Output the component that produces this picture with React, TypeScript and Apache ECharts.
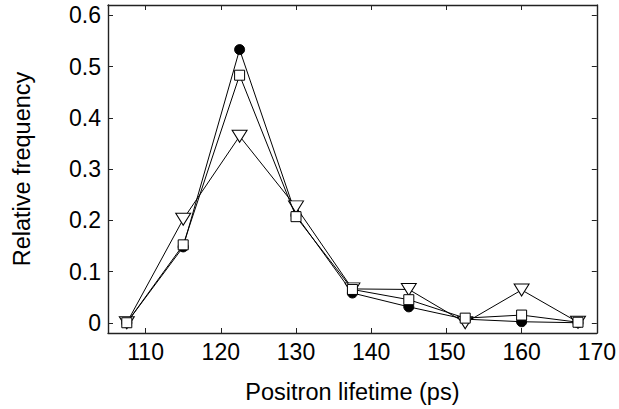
import React, { useEffect, useRef } from "react";
import * as echarts from "echarts";

const lifetimes = [107.5, 115, 122.5, 130, 137.5, 145, 152.5, 160, 167.5];
const circleSeries = [0, 0.148, 0.533, 0.21, 0.058, 0.031, 0.007, 0.002, 0];
const squareSeries = [0, 0.152, 0.483, 0.207, 0.065, 0.045, 0.009, 0.015, 0.001];
const triangleSeries = [0, 0.202, 0.364, 0.226, 0.066, 0.065, 0.0, 0.064, 0.001];
const xTicks = [110, 120, 130, 140, 150, 160, 170];
const yTicks = [0, 0.1, 0.2, 0.3, 0.4, 0.5, 0.6];

const FONT = "'Liberation Sans', Arial, Helvetica, sans-serif";
const AXIS_COLOR = "#222";

export default function App() {
  const ref = useRef<HTMLDivElement>(null);
  useEffect(() => {
    if (!ref.current) return;
    const chart = echarts.init(ref.current, null, { renderer: "svg" });
    const pairs = (ys: number[]) => lifetimes.map((x, i) => [x, ys[i]]);
    const axisLine = { show: true, onZero: false, lineStyle: { color: AXIS_COLOR, width: 1.4 } };
    const tickStyle = { show: true, inside: true, length: 5, lineStyle: { color: AXIS_COLOR, width: 1 } };
    const lineBase = {
      type: "line" as const,
      lineStyle: { color: "#000", width: 1 },
      itemStyle: { color: "#fff", borderColor: "#000", borderWidth: 1 },
      emphasis: { disabled: true },
    };
    chart.setOption({
      animation: false,
      grid: { left: 108, top: 5, right: 20, bottom: 72 },
      xAxis: [
        {
          type: "value",
          min: 105,
          max: 170,
          position: "bottom",
          axisLine,
          axisTick: { ...tickStyle, customValues: xTicks },
          axisLabel: {
            customValues: xTicks,
            color: "#000",
            fontSize: 23,
            fontFamily: FONT,
            margin: 7,
          },
          splitLine: { show: false },
          name: "Positron lifetime (ps)",
          nameLocation: "middle",
          nameGap: 47,
          nameTextStyle: { color: "#000", fontSize: 23.5, fontFamily: FONT },
        },
        {
          type: "value",
          min: 105,
          max: 170,
          position: "top",
          axisLine,
          axisTick: { ...tickStyle, customValues: xTicks },
          axisLabel: { show: false },
          splitLine: { show: false },
        },
      ],
      yAxis: [
        {
          type: "value",
          min: -0.02,
          max: 0.62,
          position: "left",
          axisLine,
          axisTick: { ...tickStyle, customValues: yTicks },
          axisLabel: {
            customValues: yTicks,
            color: "#000",
            fontSize: 23,
            fontFamily: FONT,
            margin: 7,
            formatter: (v: number) => (v === 0 ? "0" : v.toFixed(1)),
          },
          splitLine: { show: false },
          name: "Relative frequency",
          nameLocation: "middle",
          nameGap: 74,
          nameTextStyle: { color: "#000", fontSize: 23.5, fontFamily: FONT },
        },
        {
          type: "value",
          min: -0.02,
          max: 0.62,
          position: "right",
          axisLine,
          axisTick: { ...tickStyle, customValues: yTicks },
          axisLabel: { show: false },
          splitLine: { show: false },
        },
      ],
      series: [
        {
          ...lineBase,
          name: "circle",
          data: pairs(circleSeries),
          symbol: "circle",
          symbolSize: 10,
          itemStyle: { color: "#000", borderColor: "#000", borderWidth: 1 },
          z: 2,
        },
        {
          ...lineBase,
          name: "triangle",
          data: pairs(triangleSeries),
          symbol: "triangle",
          symbolRotate: 180,
          symbolSize: [15, 12],
          z: 3,
        },
        {
          ...lineBase,
          name: "square",
          data: pairs(squareSeries),
          symbol: "rect",
          symbolSize: 10,
          z: 4,
        },
      ],
    });
    return () => chart.dispose();
  }, []);
  return (
    <div
      ref={ref}
      style={{ position: "fixed", left: 0, top: 0, width: 619, height: 409, background: "#fff" }}
    />
  );
}
